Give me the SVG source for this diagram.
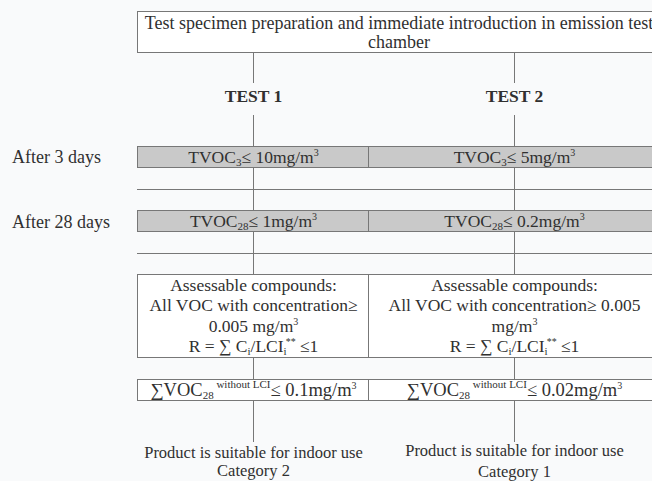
<svg xmlns="http://www.w3.org/2000/svg" width="652" height="481" viewBox="0 0 652 481">
  <style>
    text { font-family: "Liberation Serif", "Times New Roman", serif; fill: #303030; font-size: 17.5px; }
    .c { text-anchor: middle; }
    .b { font-weight: bold; }
    .head { font-size: 18px; }
    .small { font-size: 16.5px; }
    .sum { font-size: 18.5px; }
    .box { fill: #ffffff; stroke: #777; stroke-width: 1; }
    .bar { fill: #c9c9c9; stroke: #777; stroke-width: 1; }
    .ln { stroke: #777; stroke-width: 1; fill: none; }
    .sub { font-size: 11px; }
    .sup { font-size: 10px; }
    .sup2 { font-size: 11px; }
  </style>
  <rect x="0" y="0" width="652" height="481" fill="#f9fafb"/>

  <!-- connectors and row separators -->
  <g id="connectors" class="ln">
    <path d="M253.5 52.5V83 M253.5 115V146 M253.5 167V274 M253.5 357V380 M253.5 400V442"/>
    <path d="M514.5 52.5V83 M514.5 115V146 M514.5 167V274 M514.5 357V380 M514.5 400V442"/>
    <path d="M137 189.5H660 M137 253.5H660"/>
  </g>

  <!-- start: specimen preparation -->
  <g id="start">
    <rect class="box" x="137.5" y="11.5" width="525" height="41"/>
    <text class="c head" x="399" y="29">Test specimen preparation and immediate introduction in emission test</text>
    <text class="c head" x="399" y="48">chamber</text>
  </g>

  <g id="test1"><text class="c b" x="253.5" y="102">TEST 1</text></g>
  <g id="test2"><text class="c b" x="514.5" y="102">TEST 2</text></g>

  <g id="label-3days"><text class="head" x="12" y="163">After 3 days</text></g>
  <g id="label-28days"><text class="head" x="12" y="228">After 28 days</text></g>

  <!-- 3-day limits -->
  <g id="tvoc3">
    <rect class="bar" x="137.5" y="146.5" width="525" height="21"/>
    <path class="ln" d="M368.5 146.5V167.5"/>
    <text class="c" x="253.5" y="163">TVOC<tspan class="sub" dy="3">3</tspan><tspan dy="-3">≤ 10mg/m</tspan><tspan class="sup" dy="-7">3</tspan></text>
    <text class="c" x="514.5" y="163">TVOC<tspan class="sub" dy="3">3</tspan><tspan dy="-3">≤ 5mg/m</tspan><tspan class="sup" dy="-7">3</tspan></text>
  </g>

  <!-- 28-day limits -->
  <g id="tvoc28">
    <rect class="bar" x="137.5" y="210.5" width="525" height="21"/>
    <path class="ln" d="M368.5 210.5V231.5"/>
    <text class="c" x="253.5" y="227">TVOC<tspan class="sub" dy="3">28</tspan><tspan dy="-3">≤ 1mg/m</tspan><tspan class="sup" dy="-7">3</tspan></text>
    <text class="c" x="514.5" y="227">TVOC<tspan class="sub" dy="3">28</tspan><tspan dy="-3">≤ 0.2mg/m</tspan><tspan class="sup" dy="-7">3</tspan></text>
  </g>

  <!-- assessable compounds -->
  <g id="assessable">
    <rect class="box" x="137.5" y="274.5" width="525" height="83"/>
    <path class="ln" d="M368.5 274.5V357.5"/>
    <text class="c" x="253.5" y="291">Assessable compounds:</text>
    <text class="c" x="253.5" y="311">All VOC with concentration≥</text>
    <text class="c" x="253.5" y="332">0.005 mg/m<tspan class="sup" dy="-7">3</tspan></text>
    <text class="c" x="253.5" y="352">R = ∑ C<tspan class="sub" dy="3">i</tspan><tspan dy="-3">/LCI</tspan><tspan class="sub" dy="3">i</tspan><tspan class="sup" dx="-1" dy="-10">**</tspan><tspan dy="7"> ≤1</tspan></text>
    <text class="c" x="514.5" y="291">Assessable compounds:</text>
    <text class="c" x="514.5" y="311">All VOC with concentration≥ 0.005</text>
    <text class="c" x="514.5" y="332">mg/m<tspan class="sup" dy="-7">3</tspan></text>
    <text class="c" x="514.5" y="352">R = ∑ C<tspan class="sub" dy="3">i</tspan><tspan dy="-3">/LCI</tspan><tspan class="sub" dy="3">i</tspan><tspan class="sup" dx="-1" dy="-10">**</tspan><tspan dy="7"> ≤1</tspan></text>
  </g>

  <!-- VOC without LCI -->
  <g id="voc-without-lci">
    <rect class="box" x="137.5" y="379.5" width="525" height="21"/>
    <path class="ln" d="M368.5 379.5V400.5"/>
    <text class="c sum" x="253.5" y="396">∑VOC<tspan class="sub" dy="3">28</tspan><tspan class="sup2" dy="-11"> without LCI</tspan><tspan dy="8">≤ 0.1mg/m</tspan><tspan class="sup" dy="-7">3</tspan></text>
    <text class="c sum" x="514.5" y="396">∑VOC<tspan class="sub" dy="3">28</tspan><tspan class="sup2" dy="-11"> without LCI</tspan><tspan dy="8">≤ 0.02mg/m</tspan><tspan class="sup" dy="-7">3</tspan></text>
  </g>

  <g id="result-cat2">
    <text class="c small" x="253.5" y="458">Product is suitable for indoor use</text>
    <text class="c small" x="253.5" y="476">Category 2</text>
  </g>
  <g id="result-cat1">
    <text class="c small" x="514.5" y="456">Product is suitable for indoor use</text>
    <text class="c small" x="514.5" y="477">Category 1</text>
  </g>
</svg>
